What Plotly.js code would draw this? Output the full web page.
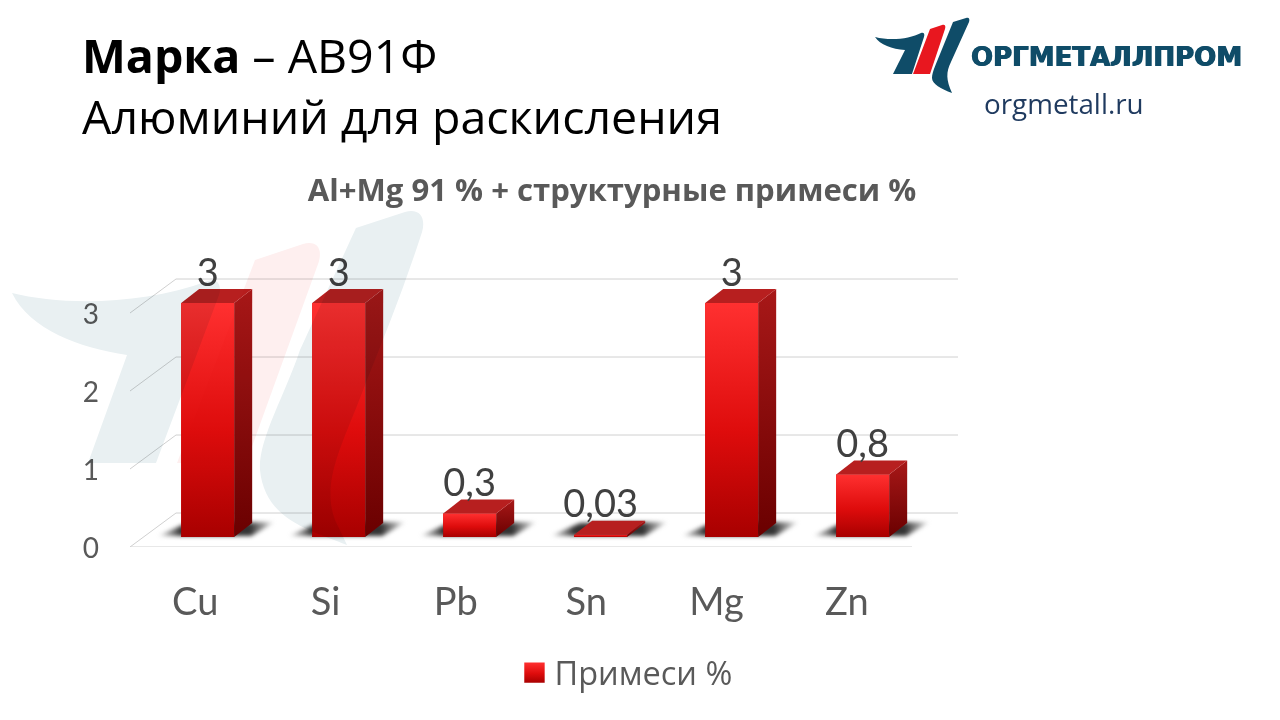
<!DOCTYPE html>
<html><head><meta charset="utf-8">
<script src="https://cdn.plot.ly/plotly-3.0.1.min.js"></script>
<style>html,body{margin:0;padding:0;background:#fff}</style>
</head><body><div id="chart" style="width:1280px;height:720px"></div>
<script>
const categories = ['Cu','Si','Pb','Sn','Mg','Zn'];
const values = [3,3,0.3,0.03,3,0.8];
const yTicks = [0,1,2,3];
const seriesName = 'Примеси %';
const chartTitle = 'Al+Mg 91 % + структурные примеси %';

// layout geometry in page pixels
const L=130,R=958,T=235,B=547,W=1280,H=720;
const uX=782/6,uY=78;
const xr=[-0.5,-0.5+(R-L)/uX], yr=[0,(B-T)/uY];
const px=p=>p/uX, py=p=>p/uY;
const PX=x=>((x-L)/(R-L)).toFixed(4), PY=y=>((B-y)/(B-T)).toFixed(4);
// page-pixel path -> paper path
const toPaper=s=>s.replace(/(-?\d+(?:\.\d+)?),(-?\d+(?:\.\d+)?)/g,(m,a,b)=>PX(+a)+','+PY(+b));

// bar geometry
const bw=px(53),baseLift=py(10),dX=px(18),dY=py(14);
const idx=categories.map((_,i)=>i);
const barC=i=>px(12.5+131*i);
const barL=i=>barC(i)-bw/2, barR=i=>barC(i)+bw/2;
const barTop=i=>baseLift+values[i];

const traces=[];
const poly=(xs,ys,extra)=>Object.assign({x:[...xs,xs[0]],y:[...ys,ys[0]],type:'scatter',mode:'lines',
  line:{width:0},fill:'toself',hoverinfo:'skip',showlegend:false},extra);

// the bars themselves
traces.push({type:'bar',name:seriesName,x:idx.map(barC),y:values,base:idx.map(()=>baseLift),
  width:bw,marker:{color:'#d40a0a',line:{width:0}},hoverinfo:'x+y',showlegend:true});

// floor shadows (one per bar, blurred after drawing)
const shC='rgba(40,40,40,0.95)',shM='rgba(90,90,90,0.55)',shN='rgba(120,120,120,0)';
idx.forEach(i=>{
  const x0=barL(i),b=baseLift;
  const sp=[[-24,1],[70,1],[94,15],[6,14]];
  traces.push(poly(sp.map(p=>x0+px(p[0])),sp.map(p=>b+py(p[1])),
    {name:'shadow',fillgradient:{type:'horizontal',colorscale:[[0,shN],[0.09,shM],[0.2,shC],[0.79,shC],[0.91,shM],[1,shN]]}}));
});
// bar faces: gradient front, side, top
idx.forEach(i=>{
  const x0=barL(i),x1=barR(i),b=baseLift,t=barTop(i);
  traces.push(poly([x0,x1,x1,x0],[b,b,t,t],
    {fillgradient:{type:'vertical',colorscale:[[0,'#a80000'],[0.45,'#de0c0c'],[1,'#ff3030']]}}));
  traces.push(poly([x1,x1+dX,x1+dX,x1],[b,b+dY,t+dY,t],
    {fillgradient:{type:'vertical',colorscale:[[0,'#6a0000'],[1,'#a81818']]}}));
  traces.push(poly([x0,x1,x1+dX,x0+dX],[t,t,t+dY,t+dY],{fillcolor:'#b71f1f'}));
});
// data labels
traces.push({type:'scatter',mode:'text',x:idx.map(barC),y:idx.map(i=>barTop(i)+py(27)),
  text:values.map(v=>String(v).replace('.',',')),textposition:'middle center',
  textfont:{family:'Lato, Open Sans, sans-serif',size:38,color:'#404040'},hoverinfo:'skip',showlegend:false,cliponaxis:false});

// wall and floor grid lines
const gc='#d0d0d0';
const gridLine=(x0,y0,x1,y1)=>({type:'line',xref:'x',yref:'y',x0,y0,x1,y1,layer:'below',line:{color:gc,width:1}});
const depthX=px(46),depthY=py(34);
const shapes=[];
// watermark, multiplied over the whole chart after drawing
const wmBlue1='M12,293 C60,305 140,306 208,281 C218,278 222,286 219,295 L156,463 L88,463 L127,355 C80,348 30,330 12,293 Z';
const wmPink='M255,260 L303,244 C318,240 323,250 318,264 L246,463 L177,463 Z';
const wmBlue2='M356,228 L405,212 C420,208 426,218 422,232 C405,285 385,335 365,385 C345,440 320,480 335,520 L347,545 C310,530 265,520 260,470 C258,440 285,395 300,350 Z';
[[wmBlue1,'#e9f0f2'],[wmPink,'#feefef'],[wmBlue2,'#e9f0f2']].forEach(([p,c])=>{
  shapes.push({type:'path',xref:'paper',yref:'paper',path:toPaper(p),fillcolor:c,line:{width:0},layer:'above'});
});
yTicks.forEach(v=>{
  shapes.push(gridLine(xr[0],v,xr[0]+depthX,v+depthY));
  shapes.push(gridLine(xr[0]+depthX,v+depthY,xr[1],v+depthY));
});
shapes.push(gridLine(xr[0],0,5.5,0));
// logo mark
const logo=[
 ['M875,37 C890,41 910,39 921,33 C924,32 925,34 924,37 L912,74 L893,74 L905,50 C892,49 880,45 875,37 Z','#0f4c68'],
 ['M930,29 L942,25 C945,24 946,26 945,29 L930,74 L913,74 Z','#e8171f'],
 ['M953,22 L966,18 C969,17 970,19 969,22 L951,62 C946,72 946,80 952,93 C941,89 932,84 932,78 C932,72 937,62 940,54 Z','#0f4c68']
];
logo.forEach(([p,c])=>shapes.push({type:'path',xref:'paper',yref:'paper',path:toPaper(p),fillcolor:c,line:{width:0},layer:'above'}));

const ann=(x,y,text,font,xanchor='left')=>({xref:'paper',yref:'paper',x:+PX(x),y:+PY(y),text,showarrow:false,font,xanchor,yanchor:'middle',align:'left'});
const hf='Open Sans, Noto Sans, sans-serif';
const annotations=[
 ann(80,55,'<b>Марка</b> – АВ91Ф',{family:hf,size:46.5,color:'#000'}),
 ann(80,116,'Алюминий для раскисления',{family:hf,size:46.5,color:'#000'}),
 ann(969,57,'<b>ОРГМЕТАЛЛПРОМ</b>',{family:'DejaVu Sans',size:26,color:'#0f4c68',shadow:'0.6px 0 0 #0f4c68, -0.6px 0 0 #0f4c68'}),
 ann(982,103,'orgmetall.ru',{family:hf,size:27.8,color:'#1f3a5f'})
];

const layout={width:W,height:H,margin:{l:L,r:W-R,t:T,b:H-B,pad:0},
 paper_bgcolor:'#fff',plot_bgcolor:'rgba(0,0,0,0)',
 title:{text:'<b>'+chartTitle+'</b>',font:{family:hf,size:31.1,color:'#595959'},x:612/W,xref:'container',xanchor:'center',y:1-190/H,yref:'container',yanchor:'middle'},
 xaxis:{range:xr,tickmode:'array',tickvals:idx,ticktext:categories,showgrid:false,zeroline:false,showline:false,ticks:'',
   ticklabelstandoff:29,tickfont:{family:'Lato, Open Sans, sans-serif',size:38,color:'#595959'}},
 yaxis:{range:yr,tickmode:'array',tickvals:yTicks,ticktext:yTicks.map(String),showgrid:false,zeroline:false,showline:false,ticks:'',
   ticklabelstandoff:30,ticklabelshift:1,tickfont:{family:'Lato, Open Sans, sans-serif',size:28,color:'#595959'}},
 legend:{orientation:'h',x:+PX(626),y:+PY(673),xanchor:'center',yanchor:'middle',font:{family:hf,size:32.5,color:'#595959'},bgcolor:'rgba(0,0,0,0)',itemclick:false},
 shapes,annotations,barmode:'overlay',showlegend:true};

Plotly.newPlot('chart',traces,layout,{displayModeBar:false,staticPlot:true}).then(gd=>{
  const svg=gd.querySelector('svg.main-svg');
  const NS='http://www.w3.org/2000/svg';
  const defs=svg.querySelector('defs')||svg.insertBefore(document.createElementNS(NS,'defs'),svg.firstChild);
  const g=document.createElementNS(NS,'linearGradient');
  g.setAttribute('id','legendSwatch');g.setAttribute('x1','0');g.setAttribute('y1','0');g.setAttribute('x2','0');g.setAttribute('y2','1');
  [['0','#ff3030'],['0.55','#de0c0c'],['1','#a80000']].forEach(([o,c])=>{
    const s=document.createElementNS(NS,'stop');s.setAttribute('offset',o);s.setAttribute('stop-color',c);g.appendChild(s);});
  defs.appendChild(g);
  gd.querySelectorAll('.legendpoints path').forEach(p=>{p.style.fill='url(#legendSwatch)';p.setAttribute('transform',(p.getAttribute('transform')||'')+' scale(1.7)');});
  // soften floor shadows
  const sc=gd.querySelectorAll('.scatterlayer .trace');
  idx.forEach(i=>{const f=sc[i].querySelector('.js-fill'); if(f) f.style.filter='blur(2.2px)';});
  // watermark tints whatever lies beneath it
  const up=gd.querySelectorAll('.layer-above .shapelayer path');
  [0,1,2].forEach(k=>{if(up[k]) up[k].style.mixBlendMode='multiply';});
});
</script></body></html>
